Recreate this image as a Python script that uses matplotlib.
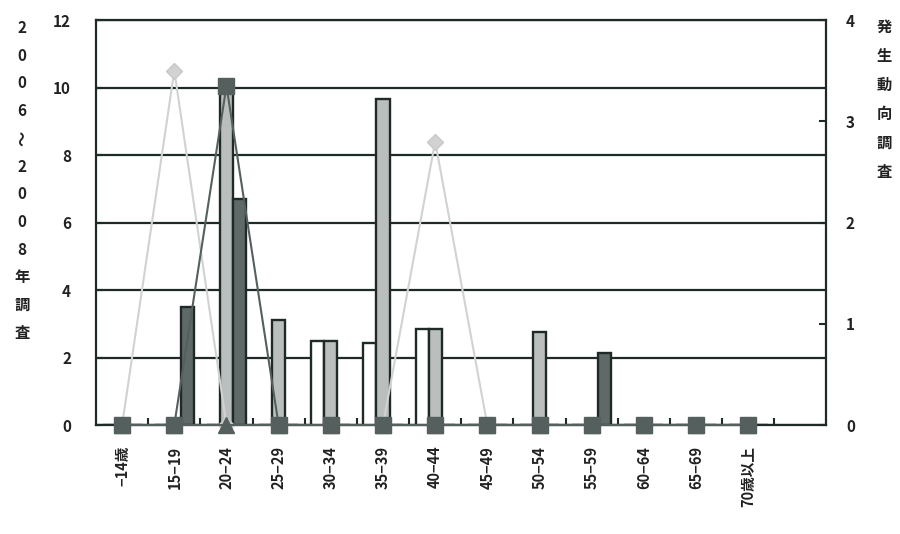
import numpy as np
import matplotlib.pyplot as plt

plt.rcParams['font.family'] = ['Noto Sans CJK JP', 'DejaVu Sans']
plt.rcParams['font.weight'] = 'bold'

ages = ['−14歳', '15−19', '20−24', '25−29', '30−34', '35−39', '40−44',
        '45−49', '50−54', '55−59', '60−64', '65−69', '70歳以上']

# 2006~2008 survey (left axis), three bar series
bar_white = [0, 0, 0, 0, 2.5, 2.42, 2.84, 0, 0, 0, 0, 0, 0]
bar_light = [0, 0, 10.1, 3.1, 2.5, 9.66, 2.84, 0, 2.75, 0, 0, 0, 0]
bar_dark = [0, 3.5, 6.7, 0, 0, 0, 0, 0, 0, 2.13, 0, 0, 0]

# trend survey (right axis), line series
line_diamond = [0, 3.5, 0, 0, 0, 0, 2.8, 0, 0, 0, 0, 0, 0]
line_square = [0, 0, 3.35, 0, 0, 0, 0, 0, 0, 0, 0, 0, 0]
line_triangle = [0, 0, 0, 0, 0, 0, 0, 0, 0, 0, 0, 0, 0]

left_label = list('2006') + ['〜'] + list('2008年調査')
right_label = list('発生動向調査')

dark = '#1f2a28'
fig = plt.figure(figsize=(9, 5.34), dpi=100)
ax = fig.add_axes([0.1067, 0.2041, 0.8116, 0.7584])

x = np.arange(len(ages))
w = 0.25
ax.bar(x - w, bar_white, w, color='white', edgecolor=dark, linewidth=1.7, zorder=3)
ax.bar(x, bar_light, w, color='#babfbe', edgecolor=dark, linewidth=1.7, zorder=3)
ax.bar(x + w, bar_dark, w, color='#5f6a68', edgecolor=dark, linewidth=1.7, zorder=3)

ax.set_xlim(-0.5, 13.5)
ax.set_ylim(0, 12)
ax.set_yticks(range(0, 13, 2))
ax.yaxis.grid(True, color=dark, linewidth=1.6, zorder=0)
ax.set_axisbelow(True)
for s in ax.spines.values():
    s.set_color(dark)
    s.set_linewidth(1.6)

ax.set_xticks(x)
ax.set_xticklabels(ages, rotation=90, fontsize=10.5, color='#222222')
ax.set_xticks(np.arange(0.5, 13, 1), minor=True)
ax.tick_params(axis='x', which='major', length=0, pad=15)
ax.tick_params(axis='x', which='minor', direction='in', length=5, width=1.5, color=dark)
ax.tick_params(axis='y', direction='in', length=5, width=1.5, color=dark,
               labelsize=11, pad=18, labelcolor='#222222')

ax2 = ax.twinx()
ax2.set_ylim(0, 4)
ax2.set_yticks(range(0, 5))
ax2.tick_params(axis='y', direction='in', length=5, width=1.5, color=dark,
                labelsize=11, pad=14, labelcolor='#222222')
for s in ax2.spines.values():
    s.set_visible(False)

ax2.plot(x, line_diamond, color='#d2d2d2', linewidth=1.5, marker='D',
         markersize=8, markeredgecolor='#c8c8c8', clip_on=False, zorder=4)
ax2.plot(x, line_triangle, color='#55605e', linewidth=1.5, marker='^',
         markersize=11, clip_on=False, zorder=5)
ax2.plot(x, line_square, color='#55605e', linewidth=1.5, marker='s',
         markersize=11, clip_on=False, zorder=6)

for i, ch in enumerate(left_label):
    fig.text(22 / 900, 1 - (28 + i * 27.7) / 534, ch, ha='center', va='center',
             fontsize=11, color='#222222', rotation=90 if ch == '〜' else 0)
for i, ch in enumerate(right_label):
    fig.text(884 / 900, 1 - (27 + i * 29) / 534, ch, ha='center', va='center',
             fontsize=11, color='#222222')

fig.savefig('out.png', dpi=100)
